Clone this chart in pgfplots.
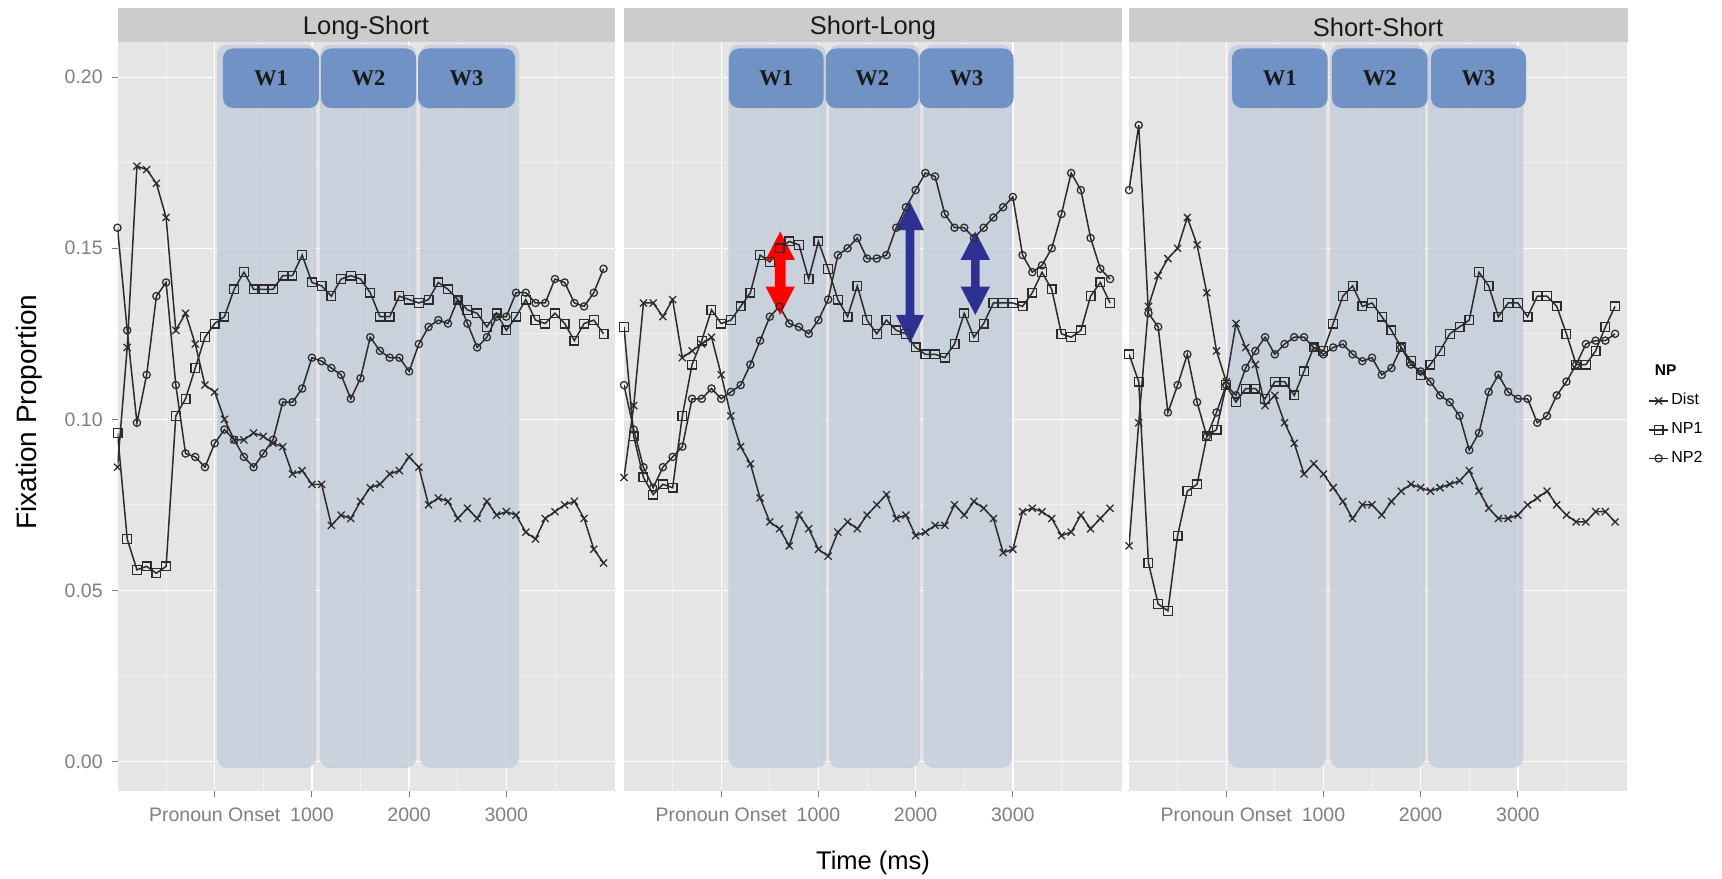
\documentclass[border=0pt]{standalone}
\usepackage{fontspec}
\setmainfont{Liberation Sans}
\newfontfamily\wfont{Liberation Serif}
\usepackage{pgfplots}
\pgfplotsset{compat=1.18}
\usepackage{pgfplotstable}

\definecolor{panelbg}{HTML}{E5E5E5}
\definecolor{stripbg}{HTML}{CCCCCC}
\definecolor{minorgrid}{HTML}{F2F2F2}
\definecolor{ticktext}{HTML}{7F7F7F}
\definecolor{winfill}{RGB}{194,204,220}
\definecolor{tabfill}{RGB}{112,146,196}
\definecolor{navyarrow}{RGB}{46,49,146}
\definecolor{seriesline}{HTML}{2B2B2B}

% fixation proportions, 100 ms bins, t = ms from pronoun onset
\pgfplotstableread{
t dist np1 np2
-1000 0.086 0.096 0.156
-900 0.121 0.065 0.126
-800 0.174 0.056 0.099
-700 0.173 0.057 0.113
-600 0.169 0.055 0.136
-500 0.159 0.057 0.140
-400 0.126 0.101 0.110
-300 0.131 0.106 0.090
-200 0.122 0.115 0.089
-100 0.110 0.124 0.086
0 0.108 0.128 0.093
100 0.100 0.130 0.097
200 0.094 0.138 0.094
300 0.094 0.143 0.089
400 0.096 0.138 0.086
500 0.095 0.138 0.090
600 0.093 0.138 0.094
700 0.092 0.142 0.105
800 0.084 0.142 0.105
900 0.085 0.148 0.109
1000 0.081 0.140 0.118
1100 0.081 0.139 0.117
1200 0.069 0.136 0.115
1300 0.072 0.141 0.113
1400 0.071 0.142 0.106
1500 0.076 0.141 0.112
1600 0.080 0.137 0.124
1700 0.081 0.130 0.120
1800 0.084 0.130 0.118
1900 0.085 0.136 0.118
2000 0.089 0.135 0.114
2100 0.086 0.134 0.122
2200 0.075 0.135 0.127
2300 0.077 0.140 0.129
2400 0.076 0.138 0.128
2500 0.071 0.135 0.135
2600 0.074 0.132 0.128
2700 0.071 0.131 0.121
2800 0.076 0.127 0.124
2900 0.072 0.131 0.130
3000 0.073 0.126 0.130
3100 0.072 0.130 0.137
3200 0.067 0.135 0.137
3300 0.065 0.129 0.134
3400 0.071 0.128 0.134
3500 0.073 0.131 0.141
3600 0.075 0.128 0.140
3700 0.076 0.123 0.134
3800 0.071 0.128 0.133
3900 0.062 0.129 0.137
4000 0.058 0.125 0.144
}\tabLS

\pgfplotstableread{
t dist np1 np2
-1000 0.083 0.127 0.110
-900 0.104 0.095 0.097
-800 0.134 0.083 0.086
-700 0.134 0.078 0.080
-600 0.130 0.081 0.086
-500 0.135 0.080 0.089
-400 0.118 0.101 0.092
-300 0.120 0.116 0.106
-200 0.122 0.123 0.106
-100 0.124 0.132 0.109
0 0.113 0.128 0.106
100 0.101 0.129 0.108
200 0.092 0.133 0.110
300 0.087 0.137 0.116
400 0.077 0.148 0.123
500 0.070 0.146 0.130
600 0.068 0.150 0.133
700 0.063 0.152 0.128
800 0.072 0.151 0.127
900 0.068 0.141 0.125
1000 0.062 0.152 0.129
1100 0.060 0.144 0.135
1200 0.067 0.135 0.148
1300 0.070 0.130 0.150
1400 0.068 0.139 0.153
1500 0.072 0.129 0.147
1600 0.075 0.125 0.147
1700 0.078 0.129 0.148
1800 0.071 0.126 0.156
1900 0.072 0.125 0.162
2000 0.066 0.121 0.167
2100 0.067 0.119 0.172
2200 0.069 0.119 0.171
2300 0.069 0.118 0.160
2400 0.075 0.122 0.156
2500 0.072 0.131 0.156
2600 0.076 0.124 0.153
2700 0.074 0.128 0.156
2800 0.071 0.134 0.159
2900 0.061 0.134 0.162
3000 0.062 0.134 0.165
3100 0.073 0.133 0.148
3200 0.074 0.137 0.143
3300 0.073 0.143 0.145
3400 0.071 0.138 0.150
3500 0.066 0.125 0.160
3600 0.067 0.124 0.172
3700 0.072 0.126 0.167
3800 0.068 0.136 0.153
3900 0.071 0.140 0.144
4000 0.074 0.134 0.141
}\tabSL

\pgfplotstableread{
t dist np1 np2
-1000 0.063 0.119 0.167
-900 0.099 0.111 0.186
-800 0.133 0.058 0.131
-700 0.142 0.046 0.127
-600 0.147 0.044 0.102
-500 0.150 0.066 0.110
-400 0.159 0.079 0.119
-300 0.151 0.081 0.105
-200 0.137 0.095 0.095
-100 0.120 0.097 0.102
0 0.111 0.110 0.110
100 0.128 0.105 0.107
200 0.121 0.109 0.115
300 0.116 0.109 0.120
400 0.104 0.106 0.124
500 0.107 0.111 0.119
600 0.099 0.111 0.122
700 0.093 0.107 0.124
800 0.084 0.114 0.124
900 0.087 0.121 0.121
1000 0.084 0.120 0.119
1100 0.080 0.128 0.121
1200 0.076 0.136 0.122
1300 0.071 0.139 0.119
1400 0.075 0.133 0.117
1500 0.075 0.134 0.118
1600 0.072 0.130 0.113
1700 0.076 0.126 0.115
1800 0.079 0.121 0.121
1900 0.081 0.117 0.116
2000 0.080 0.113 0.114
2100 0.079 0.116 0.111
2200 0.080 0.120 0.107
2300 0.081 0.125 0.105
2400 0.082 0.127 0.101
2500 0.085 0.129 0.091
2600 0.079 0.143 0.096
2700 0.074 0.139 0.108
2800 0.071 0.130 0.113
2900 0.071 0.134 0.108
3000 0.072 0.134 0.106
3100 0.075 0.130 0.106
3200 0.077 0.136 0.099
3300 0.079 0.136 0.101
3400 0.075 0.133 0.107
3500 0.072 0.125 0.111
3600 0.070 0.116 0.116
3700 0.070 0.116 0.122
3800 0.073 0.120 0.123
3900 0.073 0.127 0.123
4000 0.070 0.133 0.125
}\tabSS

\pgfplotsset{
  panel/.style={
    scale only axis, width=199pt, height=299.6pt,
    anchor=south west,
    xmin=-1000, xmax=4118, ymin=-0.00867, ymax=0.2103,
    axis background/.style={fill=panelbg},
    axis line style={draw=none},
    xtick={0,1000,2000,3000},
    xticklabels={Pronoun Onset,1000,2000,3000},
    minor xtick={-500,500,1500,2500,3500},
    ytick={0,0.05,0.1,0.15,0.2},
    minor ytick={0.025,0.075,0.125,0.175},
    grid=both,
    major grid style={white, line width=0.55pt},
    minor grid style={minorgrid, line width=0.3pt},
    tick align=outside, xtick pos=left, ytick pos=left,
    major tick length=2.4pt, minor tick length=0pt,
    tick style={ticktext, line width=0.4pt},
    tick label style={font=\fontsize{7.8}{8}\selectfont, text=ticktext},
    xticklabel style={inner sep=1.5pt, yshift=-2.6pt},
    clip=true,
  },
  sdist/.style={seriesline, line width=0.6pt, mark=x, mark size=2pt,
    mark options={solid, line width=0.5pt}},
  snpa/.style={seriesline, line width=0.6pt, mark=square, mark size=1.75pt,
    mark options={solid, line width=0.5pt}},
  snpb/.style={seriesline, line width=0.6pt, mark=o, mark size=1.45pt,
    mark options={solid, line width=0.5pt}},
}

% time windows: light column, then tab with label
\newcommand\window[5]{%
  \fill[winfill, opacity=0.8, rounded corners=4pt]
    (axis cs:#1,0.2095) rectangle (axis cs:#2,-0.0019);
  \fill[tabfill, rounded corners=4pt]
    (axis cs:#3,0.2084) rectangle (axis cs:#4,0.1910);
  \node[font=\wfont\bfseries\fontsize{9}{9}\selectfont, text=black!90]
    at (axis cs:{(#3+#4)/2},0.1998) {#5};
}
% double-headed arrow: colour, centre, head half-width, shaft half-width, tips
\newcommand\dblarrow[7]{%
  \fill[#1] (axis cs:#2,#5) -- (axis cs:#2+#3,#5-0.0083) -- (axis cs:#2+#4,#5-0.0083)
    -- (axis cs:#2+#4,#6+0.0083) -- (axis cs:#2+#3,#6+0.0083) -- (axis cs:#2,#6)
    -- (axis cs:#2-#3,#6+0.0083) -- (axis cs:#2-#4,#6+0.0083)
    -- (axis cs:#2-#4,#5-0.0083) -- (axis cs:#2-#3,#5-0.0083) -- cycle;
}

\begin{document}
\begin{tikzpicture}
\begin{scope}[x=0.4pt, y=-0.4pt]
  \fill[white] (0,0) rectangle (1722,879);
  \useasboundingbox (0,0) rectangle (1722,879);
  % facet strips
  \fill[stripbg] (117.5,8.5) rectangle (615,42);
  \fill[stripbg] (624,8.5) rectangle (1122,42);
  \fill[stripbg] (1129,8.5) rectangle (1627.5,42);
  \node[font=\fontsize{10.2}{11}\selectfont, text=black!90] at (366,27.5) {Long-Short};
  \node[font=\fontsize{10.2}{11}\selectfont, text=black!90] at (873,27.5) {Short-Long};
  \node[font=\fontsize{10.2}{11}\selectfont, text=black!90] at (1378,27.5) {Short-Short};
  % axis titles
  \node[font=\fontsize{11.2}{12}\selectfont, rotate=90] at (29,412) {Fixation Proportion};
  \node[font=\fontsize{10.2}{11}\selectfont] at (873,863) {Time (ms)};
  \node[font=\bfseries\fontsize{6.2}{7}\selectfont, anchor=west] at (1646,370) {NP};
\end{scope}

% Long-Short
\begin{axis}[panel, at={(47pt,-316.4pt)},
  yticklabels={0.00,0.05,0.10,0.15,0.20}]
  \window{24}{1040}{85}{1073}{W1}
  \window{1083}{2075}{1094}{2071}{W2}
  \window{2112}{3131}{2092}{3090}{W3}
  \addplot[sdist] table[x=t,y=dist]{\tabLS};
  \addplot[snpa] table[x=t,y=np1]{\tabLS};
  \addplot[snpb] table[x=t,y=np2]{\tabLS};
\end{axis}

% Short-Long
\begin{axis}[panel, at={(249.6pt,-316.4pt)},
  yticklabels={}, ytick style={draw=none}]
  \window{73}{1080}{80}{1053}{W1}
  \window{1110}{2045}{1076}{2030}{W2}
  \window{2080}{2992}{2040}{3007}{W3}
  \addplot[sdist] table[x=t,y=dist]{\tabSL};
  \addplot[snpa] table[x=t,y=np1]{\tabSL};
  \addplot[snpb] table[x=t,y=np2]{\tabSL};
  \dblarrow{red}{607}{151}{55}{0.1549}{0.1305}{}
  \dblarrow{navyarrow}{1942}{144}{46}{0.1636}{0.1222}{}
  \dblarrow{navyarrow}{2614}{151}{43}{0.1549}{0.1305}{}
\end{axis}

% Short-Short
\begin{axis}[panel, at={(451.6pt,-316.4pt)},
  yticklabels={}, ytick style={draw=none},
  legend style={at={(1.043,0.535)}, anchor=north west, draw=none, fill=none,
    font=\fontsize{6.4}{7}\selectfont, row sep=3.5pt, inner sep=0pt,
    nodes={inner sep=1pt}},
  legend cell align=left,
  legend image code/.code={\draw[mark repeat=2, mark phase=2, #1]
    plot coordinates {(0pt,0pt) (3.8pt,0pt) (7.6pt,0pt)};}]
  \window{22}{1027}{60}{1043}{W1}
  \window{1068}{2045}{1088}{2072}{W2}
  \window{2076}{3057}{2107}{3084}{W3}
  \addplot[sdist] table[x=t,y=dist]{\tabSS};
  \addlegendentry{Dist}
  \addplot[snpa] table[x=t,y=np1]{\tabSS};
  \addlegendentry{NP1}
  \addplot[snpb] table[x=t,y=np2]{\tabSS};
  \addlegendentry{NP2}
\end{axis}
\end{tikzpicture}
\end{document}
